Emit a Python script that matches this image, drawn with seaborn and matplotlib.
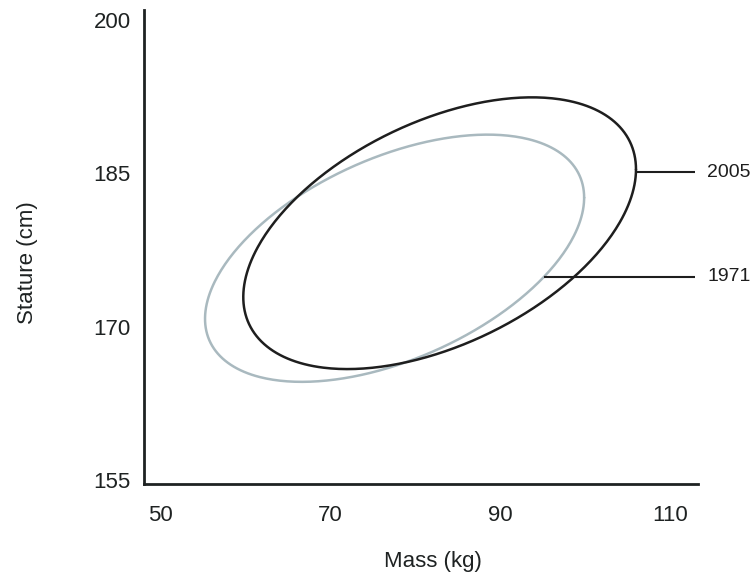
import numpy as np
import pandas as pd
import matplotlib
matplotlib.use("Agg")
import matplotlib.pyplot as plt
import seaborn as sns

# ---- data ----
years = ["2005", "1971"]
center_mass = [82.9, 77.6]        # kg
center_stature = [179.15, 176.7]  # cm
half_range_mass = [23.1, 22.3]
half_range_stature = [13.3, 12.1]
correlation = [0.47, 0.49]
line_colors = ["#1e1e1e", "#a9b9bf"]
label_stature = [185.1, 174.9]    # where the label leader lines sit

x_ticks = [50, 70, 90, 110]
y_ticks = [155, 170, 185, 200]

sns.set_theme(style="white")
plt.rcParams["font.family"] = ["Liberation Sans", "DejaVu Sans"]

fig = plt.figure(figsize=(7.55, 5.78), dpi=100)
ax = fig.add_axes([144 / 755, 1 - 484 / 578, (697.7 - 144) / 755, (484 - 10) / 578])

t = np.linspace(0, 2 * np.pi, 400)
frames = []
for yr, cx, cy, X, Y, rho in zip(years, center_mass, center_stature,
                                 half_range_mass, half_range_stature, correlation):
    d = np.arccos(rho)
    frames.append(pd.DataFrame({"mass": cx + X * np.cos(t),
                                "stature": cy + Y * np.cos(t - d),
                                "year": yr, "order": np.arange(len(t))}))
df = pd.concat(frames, ignore_index=True)

for yr, col in zip(years[::-1], line_colors[::-1]):
    sub = df[df["year"] == yr]
    sns.lineplot(data=sub, x="mass", y="stature", sort=False, estimator=None,
                 color=col, linewidth=1.8, ax=ax, legend=False)

# leader lines + labels
line_end = 112.9
text_x = 114.4
for yr, cx, cy, X, Y, rho, ly in zip(years, center_mass, center_stature,
                                     half_range_mass, half_range_stature,
                                     correlation, label_stature):
    d = np.arccos(rho)
    a = np.arccos(np.clip((ly - cy) / Y, -1, 1))
    cands = [d + a, d - a]
    xs = [cx + X * np.cos(c) for c in cands]
    x0 = max(xs)
    ax.plot([x0, line_end], [ly, ly], color="#1e1e1e", linewidth=1.5,
            clip_on=False, solid_capstyle="butt")
    ax.text(text_x, ly, yr, fontsize=14, color="#1e1e1e", va="center",
            ha="left", clip_on=False)

ax.set_xlim(48.12, 113.26)
ax.set_ylim(154.6, 201.0)
ax.set_xticks(x_ticks)
ax.set_yticks(y_ticks)
ax.tick_params(axis="both", length=0, labelsize=16, colors="#1e2222")
ax.tick_params(axis="y", pad=9.4)
ax.tick_params(axis="x", pad=15)

for s in ["top", "right"]:
    ax.spines[s].set_visible(False)
for s in ["left", "bottom"]:
    ax.spines[s].set_color("#1e2222")
    ax.spines[s].set_linewidth(2.0)

ax.set_xlabel("Mass (kg)", fontsize=16, color="#1e2222")
ax.set_ylabel("Stature (cm)", fontsize=16, color="#1e2222")
ax.xaxis.label.set_va("center")
ax.yaxis.label.set_va("center")
ax.xaxis.set_label_coords((433 - 144) / 553.7, (484 - 562) / 474)
ax.yaxis.set_label_coords((27 - 144) / 553.7, (484 - 263) / 474)

fig.savefig("out.png", dpi=100)
